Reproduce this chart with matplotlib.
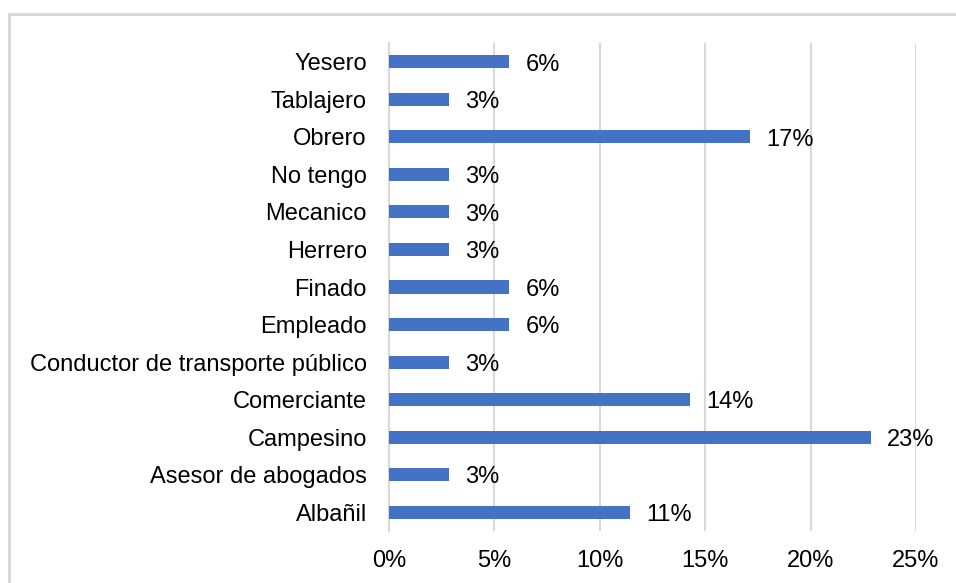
import matplotlib
matplotlib.use("Agg")
import matplotlib.pyplot as plt
from matplotlib.lines import Line2D
from matplotlib.ticker import FuncFormatter

# Occupation of the father, share of 35 answers (bottom to top)
categories = ["Albañil", "Asesor de abogados", "Campesino", "Comerciante",
              "Conductor de transporte público", "Empleado", "Finado",
              "Herrero", "Mecanico", "No tengo", "Obrero", "Tablajero", "Yesero"]
shares = [11.43, 2.86, 22.86, 14.29, 2.86, 5.71, 5.71,
          2.86, 2.86, 2.86, 17.14, 2.86, 5.71]
xticks = [0, 5, 10, 15, 20, 25]

plt.rcParams["font.family"] = ["Liberation Sans", "DejaVu Sans"]
bar_color = "#4472C4"
grid_color = "#D9D9D9"
fs = 17

fig = plt.figure(figsize=(9.56, 5.83), dpi=100)
ax = fig.add_axes([389 / 956, 1 - 531 / 583, (916 - 389) / 956, (531 - 43) / 583])

ypos = list(range(len(categories)))
ax.barh(ypos, shares, height=0.35, color=bar_color, zorder=3)

for y, v in zip(ypos, shares):
    ax.annotate(f"{v:.0f}%", (v, y), xytext=(11.5, -2), textcoords="offset points",
                ha="left", va="center", fontsize=fs, color="black")

ax.set_xlim(0, 25)
ax.set_ylim(-0.5, len(categories) - 0.5)
ax.set_yticks(ypos)
ax.set_yticklabels(categories)
ax.set_xticks(xticks)
ax.xaxis.set_major_formatter(FuncFormatter(lambda v, p: f"{v:.0f}%"))
ax.tick_params(axis="both", length=0, labelsize=fs, colors="black")
ax.tick_params(axis="y", pad=16)
ax.tick_params(axis="x", pad=14)

ax.grid(axis="x", color=grid_color, linewidth=1.5, zorder=0)
for s in ["top", "right", "bottom"]:
    ax.spines[s].set_visible(False)
ax.spines["left"].set_color(grid_color)
ax.spines["left"].set_linewidth(1.5)

# outer chart frame (only top and left edges visible in the crop)
fig.add_artist(Line2D([9 / 956, 1.01], [1 - 14 / 583] * 2, color=grid_color, lw=2.2))
fig.add_artist(Line2D([9 / 956] * 2, [1 - 14 / 583, -0.01], color=grid_color, lw=2.2))

fig.savefig("out.png", dpi=100)
